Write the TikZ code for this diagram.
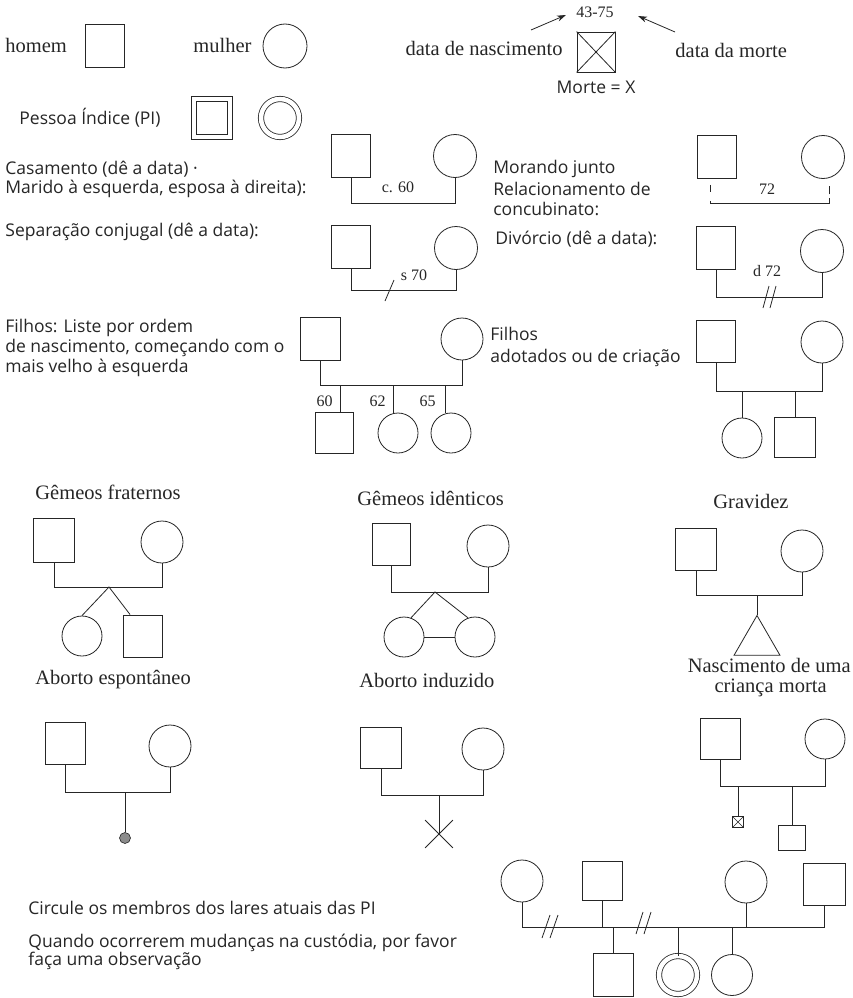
\documentclass[tikz,border=0pt]{standalone}
\usepackage{fontspec}
\setmainfont{Liberation Serif}
\newfontfamily\sansf{Open Sans}
\usetikzlibrary{arrows.meta,calc,shapes.geometric}
\definecolor{ink}{gray}{0.15}
\begin{document}
\begin{tikzpicture}[x=1pt,y=-1pt,line width=0.8pt,draw=ink,
  sq/.style={draw,rectangle,minimum width=39pt,minimum height=43pt,inner sep=0pt},
  ci/.style={draw,circle,minimum size=43pt,inner sep=0pt},
  dbl/.style={double,double distance=4.5pt,line width=0.8pt},
  ser/.style={font=\fontsize{20.5}{24}\selectfont,inner sep=0pt,text=ink},
  sns/.style={font=\sansf\fontsize{17.5}{21}\selectfont,inner sep=0pt,text=ink},
  num/.style={font=\fontsize{16}{18}\selectfont,inner sep=0pt,text=ink},
  arr/.style={-{Stealth[length=9pt,width=6pt]}}]
\useasboundingbox (0,0) rectangle (853,998);
\fill[white] (0,0) rectangle (853,998);

% ---------- row 1 ----------
\node[ser,anchor=west] (thomem) at (5,45) {homem};
\node[sq] (m1) at (105,46) {};
\node[ser,anchor=west] (tmulher) at (193,45) {mulher};
\node[ci,minimum size=44pt] (f1) at (285,46) {};
\node[ser,anchor=east] (tnasc) at (563,48) {data de nascimento};
\node[sq,minimum width=38pt,minimum height=40pt] (dead) at (596,52) {};
\draw (dead.north west) -- (dead.south east) (dead.north east) -- (dead.south west);
\node[num] (tdate) at (595,12) {43-75};
\node[ser,anchor=west] (tmorte) at (675,50) {data da morte};
\node[sns] (tmx) at (596,87) {Morte = X};
\coordinate (a1s) at (531,30);
\coordinate (a1e) at ($(tdate.west)+(-10,3)$);
\coordinate (a2s) at (675,32);
\coordinate (a2e) at ($(tdate.east)+(24,4)$);
\draw[arr] (a1s) -- (a1e);
\draw[arr] (a2s) -- (a2e);

% ---------- row 2 ----------
\node[sns,anchor=west] (tpi) at (19,118) {Pessoa Índice (PI)};
\node[sq,dbl,minimum width=36pt,minimum height=38pt] (pisq) at (212,118) {};
\node[ci,dbl,minimum size=38pt] (pici) at (280,118) {};

% ---------- casamento ----------
\node[sns,anchor=west] (tcas1) at (5,169) {Casamento (dê a data) ·};
\node[sns,anchor=west] (tcas2) at (5,189) {Marido à esquerda, esposa à direita):};
\node[sq] (casm) at (351,156) {};
\node[ci] (casf) at (455,156) {};
\draw (casm.south) -- ++(0,25.5) -| (casf.south);
\node[num] (c60) at (398,187) {c. 60};

% ---------- morando junto ----------
\node[sns,anchor=west] (tmor1) at (493,169) {Morando junto};
\node[sns,anchor=west] (tmor2) at (493,189) {Relacionamento de};
\node[sns,anchor=west] (tmor3) at (493,209) {concubinato:};
\node[sq] (morm) at (717,157) {};
\node[ci] (morf) at (823,157) {};
\coordinate (morL) at ($(morm.south west)+(13.5,6)$);
\coordinate (morR) at ($(morf.south)+(6,6)$);
\draw[dash pattern=on 7pt off 9pt on 125pt off 4pt on 8pt] (morL) -- ++(0,18) -| (morR);
\node[num] (t72) at (767,189) {72};

% ---------- separacao ----------
\node[sns,anchor=west] (tsep) at (5,232) {Separação conjugal (dê a data):};
\node[sq] (sepm) at (351,247) {};
\node[ci] (sepf) at (456,248) {};
\draw (sepm.south) -- ++(0,21.5) -| (sepf.south);
\node[num] (s70) at (414,275) {s 70};
\coordinate (sl1a) at (385,301);
\coordinate (sl1b) at (394,280);
\draw (sl1a) -- (sl1b);

% ---------- divorcio ----------
\node[sns,anchor=west] (tdiv) at (495,239) {Divórcio (dê a data):};
\node[sq] (divm) at (716,248) {};
\node[ci] (divf) at (822,251) {};
\draw (divm.south) -- ++(0,27.5) -| (divf.south);
\node[num] (d72) at (767,271) {d 72};
\coordinate (ds1a) at (763,308);
\coordinate (ds1b) at (769,286);
\coordinate (ds2a) at (770,308);
\coordinate (ds2b) at (776,286);
\draw (ds1a) -- (ds1b) (ds2a) -- (ds2b);

% ---------- filhos ----------
\node[sns,anchor=west] (tfil1) at (5,328) {Filhos: Liste por ordem};
\node[sns,anchor=west] (tfil2) at (5,348) {de nascimento, começando com o};
\node[sns,anchor=west] (tfil3) at (5,368) {mais velho à esquerda};
\node[sq,minimum width=40pt] (film) at (320,339) {};
\node[ci,minimum size=42pt] (filf) at (462,339) {};
\coordinate (filY) at (0,385);
\draw (film.south) |- (filY -| filf.south) -- (filf.south);
\node[sq,minimum width=38pt,minimum height=41pt] (fc1) at (334,433) {};
\node[ci,minimum size=40pt] (fc2) at (398,433) {};
\node[ci,minimum size=40pt] (fc3) at (451,433) {};
\coordinate (d1) at ($(fc1.north)+(6,0)$);
\coordinate (d2) at ($(fc2.north)+(-5,0)$);
\coordinate (d3) at ($(fc3.north)+(-6,0)$);
\foreach \c in {d1,d2,d3} \draw (\c) -- (\c |- filY);
\node[num,anchor=east] (l60) at ($(d1)+(-7,-11)$) {60};
\node[num,anchor=east] (l62) at ($(d2)+(-7,-11)$) {62};
\node[num,anchor=east] (l65) at ($(d3)+(-9,-11)$) {65};

% ---------- adotados ----------
\node[sns,anchor=west] (tad1) at (490,334) {Filhos};
\node[sns,anchor=west] (tad2) at (490,358) {adotados ou de criação};
\node[sq,minimum height=42pt] (adm) at (716,341) {};
\node[ci,minimum size=42pt] (adf) at (822,342) {};
\coordinate (adY) at (0,391);
\draw (adm.south) |- (adY -| adf.south) -- (adf.south);
\node[ci,minimum size=40pt] (adc1) at (742,438) {};
\node[sq,minimum width=41pt,minimum height=40pt] (adc2) at (795,437) {};
\foreach \c in {adc1,adc2} \draw (\c.north) -- (\c.north |- adY);

% ---------- gemeos fraternos ----------
\node[ser,anchor=west] (tgf) at (35,492) {Gêmeos fraternos};
\node[sq,minimum width=41pt,minimum height=44pt] (gfm) at (54,540) {};
\node[ci,minimum size=42pt] (gff) at (162,542) {};
\coordinate (gfY) at (0,587);
\draw (gfm.south) |- (gfY -| gff.south) -- (gff.south);
\coordinate (gfA) at (109,587);
\node[ci,minimum size=40pt] (gfc1) at (82,636) {};
\node[sq,minimum width=39pt,minimum height=42pt] (gfc2) at (143,636) {};
\draw (gfc1.north) -- (gfA) -- ($(gfc2.north west)+(7,0)$);

% ---------- gemeos identicos ----------
\node[ser,anchor=west] (tgi) at (357,498) {Gêmeos idênticos};
\node[sq,minimum width=38pt,minimum height=42pt] (gim) at (391,544) {};
\node[ci,minimum size=42pt] (gif) at (488,546) {};
\coordinate (giY) at (0,592);
\draw (gim.south) |- (giY -| gif.south) -- (gif.south);
\coordinate (giA) at (435,592);
\node[ci,minimum size=40pt] (gic1) at (404,637) {};
\node[ci,minimum size=40pt] (gic2) at (475,637) {};
\draw (gic1.70) -- (giA) -- (gic2.110);
\draw (gic1.east) -- (gic2.west);

% ---------- gravidez ----------
\node[ser] (tgr) at (751,501) {Gravidez};
\node[sq,minimum width=41pt,minimum height=42pt] (grm) at (696,549) {};
\node[ci,minimum size=42pt] (grf) at (802,551) {};
\coordinate (grY) at (0,595);
\draw (grm.south) |- (grY -| grf.south) -- (grf.south);
\node[draw,regular polygon,regular polygon sides=3,minimum size=53pt,inner sep=0pt] (grt) at (757,642) {};
\draw (grt.north) -- (grt.north |- grY);

% ---------- aborto espontaneo ----------
\node[ser,anchor=west] (tae) at (35,680) {Aborto espontâneo};
\node[sq,minimum width=40pt,minimum height=42pt] (aem) at (65,743) {};
\node[ci,minimum size=42pt] (aef) at (170,746) {};
\coordinate (aeY) at (0,792);
\draw (aem.south) |- (aeY -| aef.south) -- (aef.south);
\node[circle,draw,fill=black!45,minimum size=11pt,inner sep=0pt,line width=0.6pt] (aed) at (125,838) {};
\draw (aed.north) -- (aed.north |- aeY);

% ---------- aborto induzido ----------
\node[ser,anchor=west] (tai) at (359,680) {Aborto induzido};
\node[sq,minimum width=41pt,minimum height=41pt] (aim) at (381,748) {};
\node[ci,minimum size=42pt] (aif) at (483,749) {};
\coordinate (aiY) at (0,795);
\draw (aim.south) |- (aiY -| aif.south) -- (aif.south);
\node[minimum size=27pt,inner sep=0pt] (aix) at (439,834) {};
\draw (aix.north west) -- (aix.south east) (aix.north east) -- (aix.south west);
\draw (aix.center) -- (aix.center |- aiY);

% ---------- nascimento crianca morta ----------
\node[ser,anchor=east] (tsb1) at (851,665) {Nascimento de uma};
\node[ser,anchor=east] (tsb2) at (827,688) {criança morta};
\node[sq,minimum width=40pt,minimum height=41pt] (sbm) at (720,739) {};
\node[ci,minimum size=40pt] (sbf) at (825,739) {};
\coordinate (sbY) at (0,786);
\draw (sbm.south) |- (sbY -| sbf.south) -- (sbf.south);
\node[sq,minimum width=11pt,minimum height=11pt,line width=0.6pt] (sbc1) at (738,822) {};
\draw[line width=0.5pt] (sbc1.north west) -- (sbc1.south east) (sbc1.north east) -- (sbc1.south west);
\node[sq,minimum width=27pt,minimum height=25pt] (sbc2) at (792,838) {};
\draw (sbc1.north) -- (sbc1.north |- sbY);
\draw (sbc2.north) -- (sbc2.north |- sbY);

% ---------- bottom text ----------
\node[sns,anchor=west] (tcirc) at (28,908) {Circule os membros dos lares atuais das PI};
\node[sns,anchor=west] (tq1) at (28,943) {Quando ocorrerem mudanças na custódia, por favor};
\node[sns,anchor=west] (tq2) at (28,961) {faça uma observação};

% ---------- bottom pedigree ----------
\node[ci,minimum size=42pt] (pA) at (522,881) {};
\node[sq,minimum width=40pt,minimum height=39pt] (pB) at (602,881) {};
\node[ci,minimum size=42pt] (pC) at (746,882) {};
\node[sq,minimum width=42pt,minimum height=42pt] (pD) at (824,884) {};
\coordinate (pY) at (0,927);
\draw (pA.south) |- (pY -| pD.south) -- (pD.south);
\draw (pB.south) -- (pB.south |- pY);
\draw (pC.south) -- (pC.south |- pY);
\node[sq,minimum width=40pt,minimum height=43pt] (pE) at (613,975) {};
\node[ci,dbl,minimum size=38pt] (pF) at (678,975) {};
\node[ci,minimum size=41pt] (pG) at (732,975) {};
\foreach \c in {pE,pF,pG} \draw (\c.north) -- (\c.north |- pY);
\coordinate (b1a) at (542,938); \coordinate (b1b) at (550,915);
\coordinate (b2a) at (550,938); \coordinate (b2b) at (558,915);
\coordinate (b3a) at (636,934); \coordinate (b3b) at (643,912);
\coordinate (b4a) at (644,934); \coordinate (b4b) at (651,912);
\draw (b1a) -- (b1b) (b2a) -- (b2b) (b3a) -- (b3b) (b4a) -- (b4b);
\end{tikzpicture}
\end{document}
